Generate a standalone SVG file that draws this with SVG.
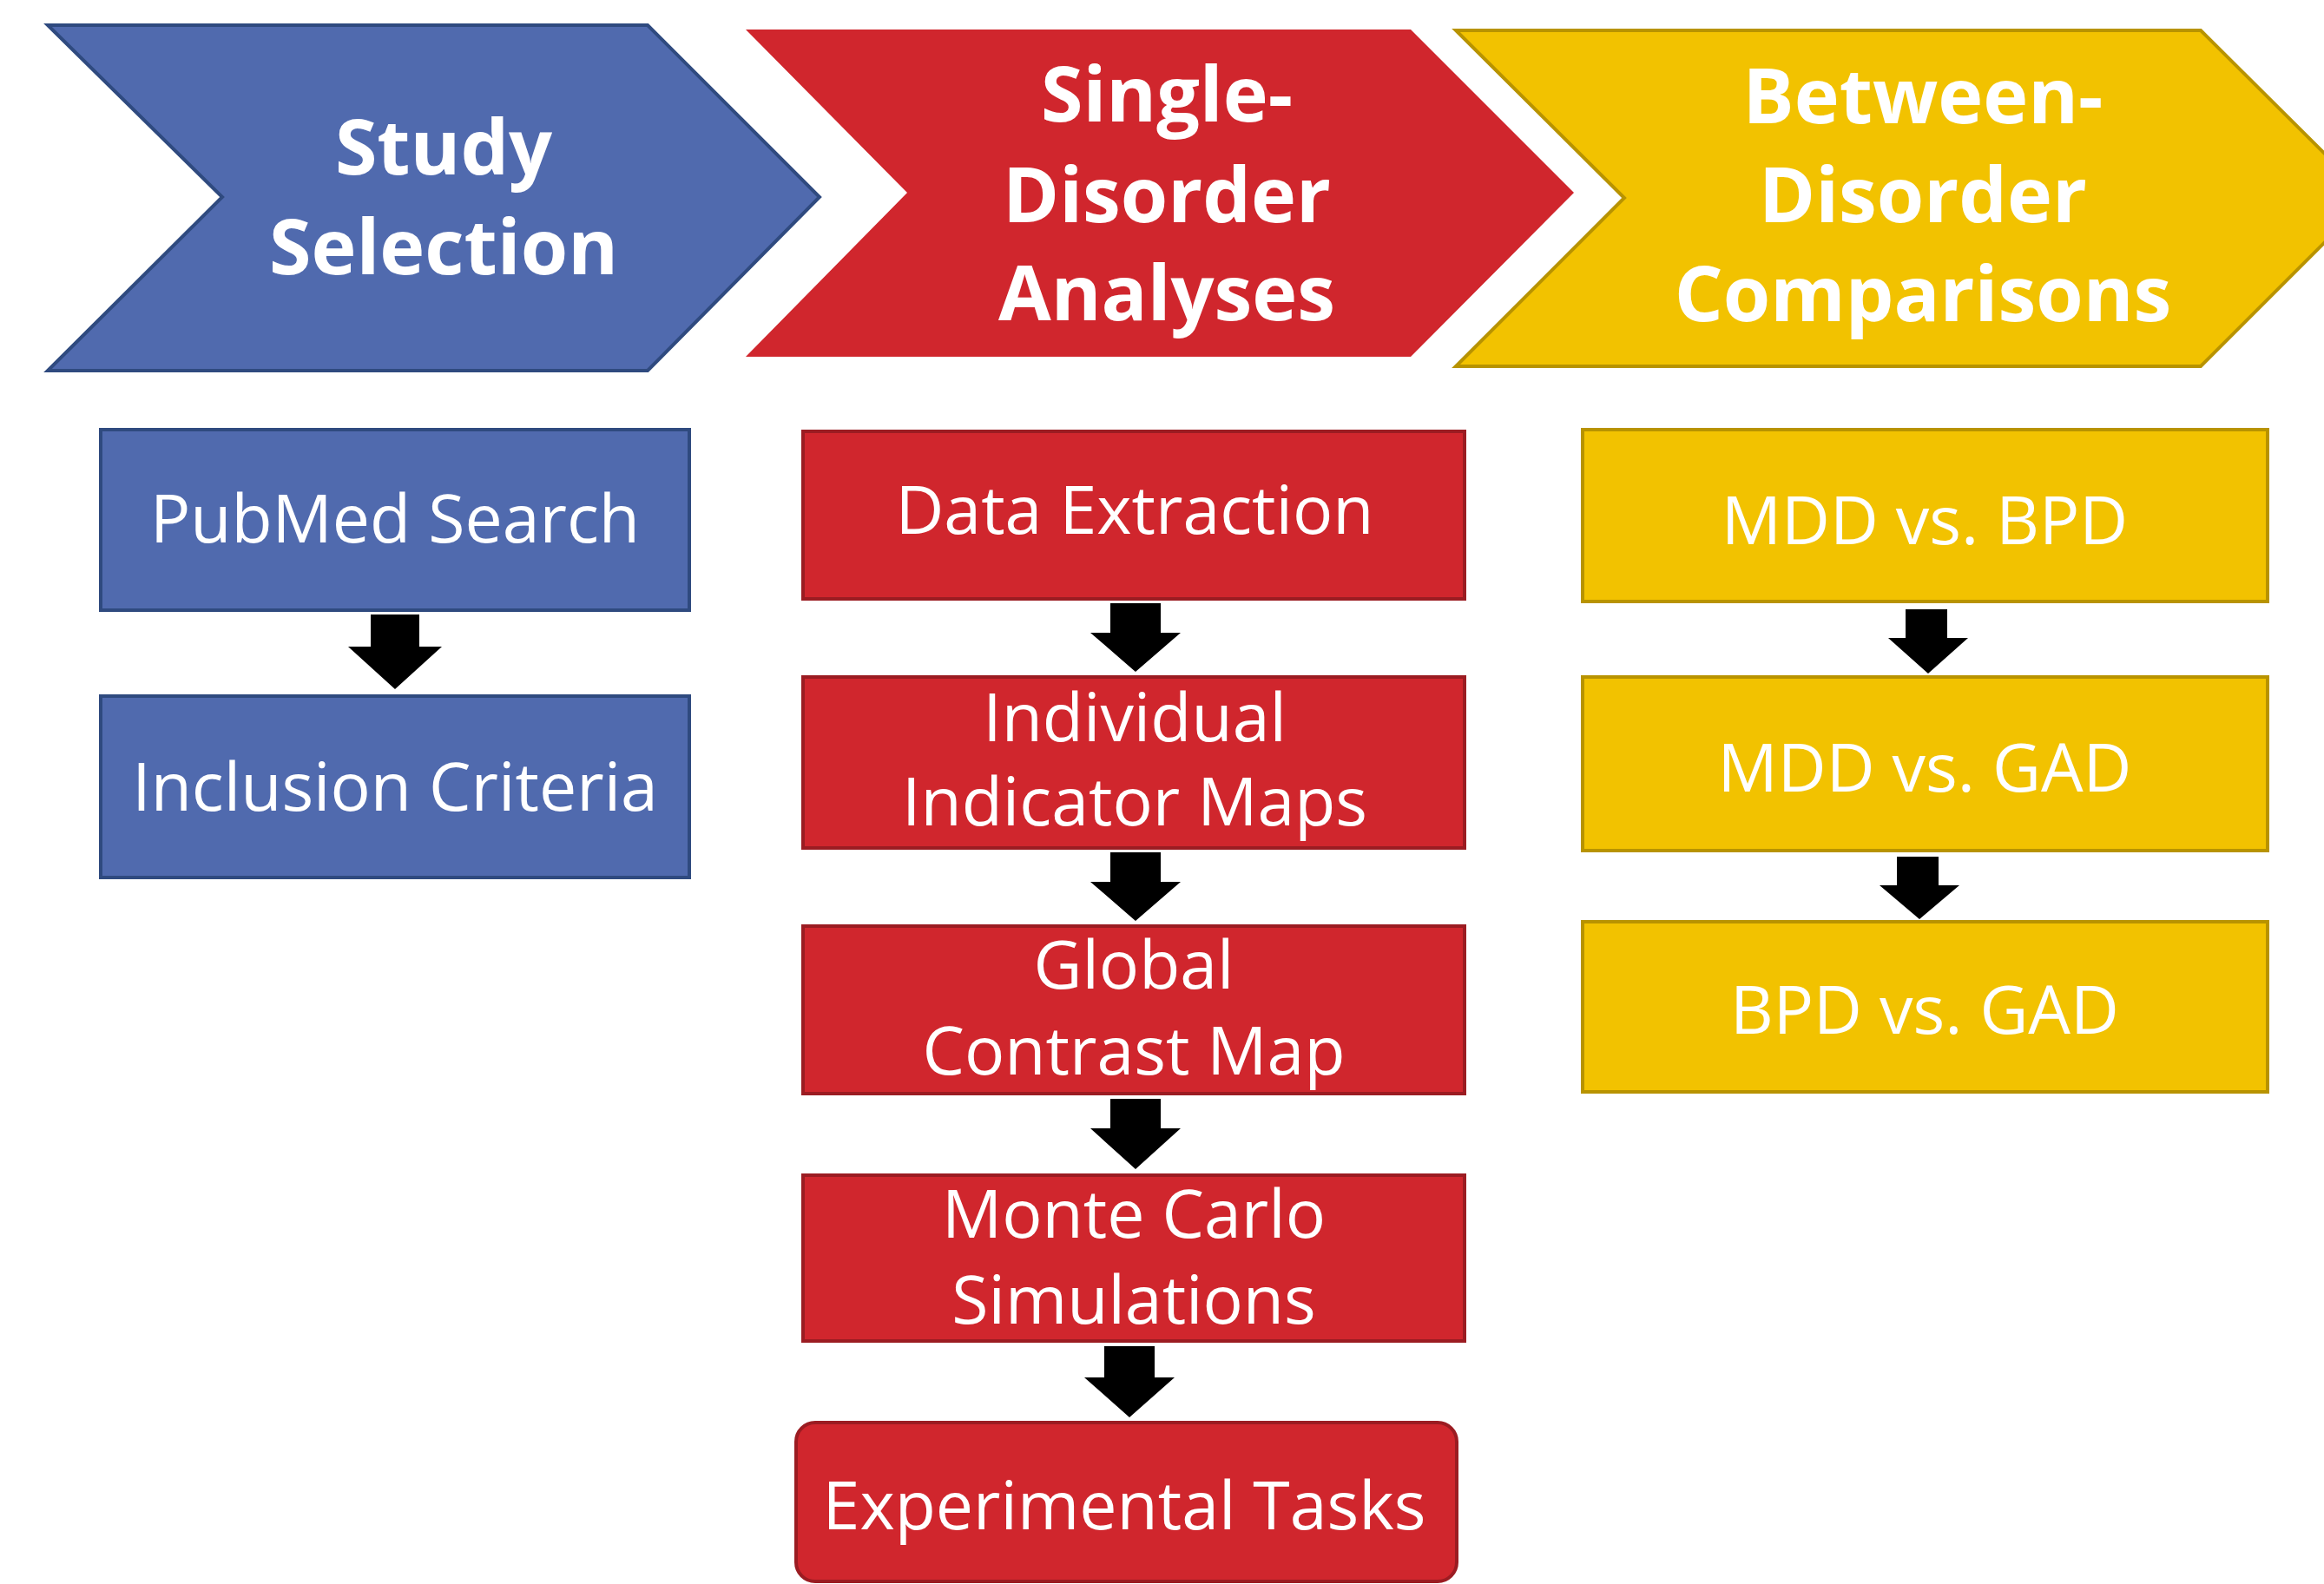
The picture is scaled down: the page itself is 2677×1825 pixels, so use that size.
<svg xmlns="http://www.w3.org/2000/svg" width="2677" height="1825" viewBox="0 0 2677 1825">
  <style>
    .head { font-family: "Open Sans", "Liberation Sans", sans-serif; font-weight: 700; font-size: 88px; fill: #ffffff; text-anchor: middle; }
    .lbl { font-family: "Open Sans", "Liberation Sans", sans-serif; font-size: 77px; fill: #ffffff; text-anchor: middle; }
    .blue { fill: #506AAE; stroke: #2F4A7F; stroke-width: 4; }
    .red { fill: #D0262D; stroke: #9B1C22; stroke-width: 4; }
    .redchev { fill: #D0262D; }
    .yellow { fill: #F2C200; stroke: #B89300; stroke-width: 4; }
    .arrow { fill: #000000; }
  </style>
  <rect width="2677" height="1825" fill="#ffffff"/>

  <!-- stage chevrons -->
  <g id="stage-study-selection">
    <polygon class="blue" points="55,29 746,29 944,227 746,427 55,427 256,227"/>
    <text class="head" x="511" y="201">Study</text>
    <text class="head" x="511" y="316">Selection</text>
  </g>
  <g id="stage-single-disorder">
    <polygon class="redchev" points="859,34 1625,34 1813,222 1625,411 859,411 1045,222"/>
    <text class="head" x="1344" y="140">Single-</text>
    <text class="head" x="1344" y="256">Disorder</text>
    <text class="head" x="1344" y="369">Analyses</text>
  </g>
  <g id="stage-between-disorder">
    <polygon class="yellow" points="1677,35 2535,35 2729,228 2535,422 1677,422 1871,228"/>
    <text class="head" x="2215" y="142">Between-</text>
    <text class="head" x="2215" y="256">Disorder</text>
    <text class="head" x="2215" y="370">Comparisons</text>
  </g>

  <!-- study selection steps -->
  <g id="pubmed-search">
    <rect class="blue" x="116" y="495" width="678" height="208"/>
    <text class="lbl" x="455" y="625">PubMed Search</text>
  </g>
  <g id="inclusion-criteria">
    <rect class="blue" x="116" y="802" width="678" height="209"/>
    <text class="lbl" x="455" y="934">Inclusion Criteria</text>
  </g>

  <!-- single-disorder steps -->
  <g id="data-extraction">
    <rect class="red" x="925" y="497" width="762" height="193"/>
    <text class="lbl" x="1307" y="615">Data Extraction</text>
  </g>
  <g id="indicator-maps">
    <rect class="red" x="925" y="780" width="762" height="197"/>
    <text class="lbl" x="1307" y="854">Individual</text>
    <text class="lbl" x="1307" y="951">Indicator Maps</text>
  </g>
  <g id="contrast-map">
    <rect class="red" x="925" y="1067" width="762" height="193"/>
    <text class="lbl" x="1306" y="1139">Global</text>
    <text class="lbl" x="1306" y="1238">Contrast Map</text>
  </g>
  <g id="monte-carlo">
    <rect class="red" x="925" y="1354" width="762" height="191"/>
    <text class="lbl" x="1306" y="1426">Monte Carlo</text>
    <text class="lbl" x="1306" y="1525">Simulations</text>
  </g>
  <g id="experimental-tasks">
    <rect class="red" x="917" y="1639" width="761" height="183" rx="22" ry="22"/>
    <text class="lbl" x="1295" y="1762">Experimental Tasks</text>
  </g>

  <!-- between-disorder steps -->
  <g id="mdd-bpd">
    <rect class="yellow" x="1823" y="495" width="789" height="198"/>
    <text class="lbl" x="2217" y="627">MDD vs. BPD</text>
  </g>
  <g id="mdd-gad">
    <rect class="yellow" x="1823" y="780" width="789" height="200"/>
    <text class="lbl" x="2217" y="912">MDD vs. GAD</text>
  </g>
  <g id="bpd-gad">
    <rect class="yellow" x="1823" y="1062" width="789" height="196"/>
    <text class="lbl" x="2217" y="1191">BPD vs. GAD</text>
  </g>

  <!-- block-arrow connectors -->
  <g id="connectors">
    <polygon class="arrow" points="427,708 483,708 483,745 509,745 455,794 401,745 427,745"/>
    <polygon class="arrow" points="1279,695 1337,695 1337,729 1360,729 1308,774 1256,729 1279,729"/>
    <polygon class="arrow" points="1279,982 1337,982 1337,1016 1360,1016 1308,1061 1256,1016 1279,1016"/>
    <polygon class="arrow" points="1279,1266 1337,1266 1337,1300 1360,1300 1308,1347 1256,1300 1279,1300"/>
    <polygon class="arrow" points="1272,1551 1330,1551 1330,1587 1353,1587 1301,1633 1249,1587 1272,1587"/>
    <polygon class="arrow" points="2195,702 2243,702 2243,735 2267,735 2221,776 2175,735 2195,735"/>
    <polygon class="arrow" points="2185,987 2233,987 2233,1020 2257,1020 2211,1059 2165,1020 2185,1020"/>
  </g>
</svg>
